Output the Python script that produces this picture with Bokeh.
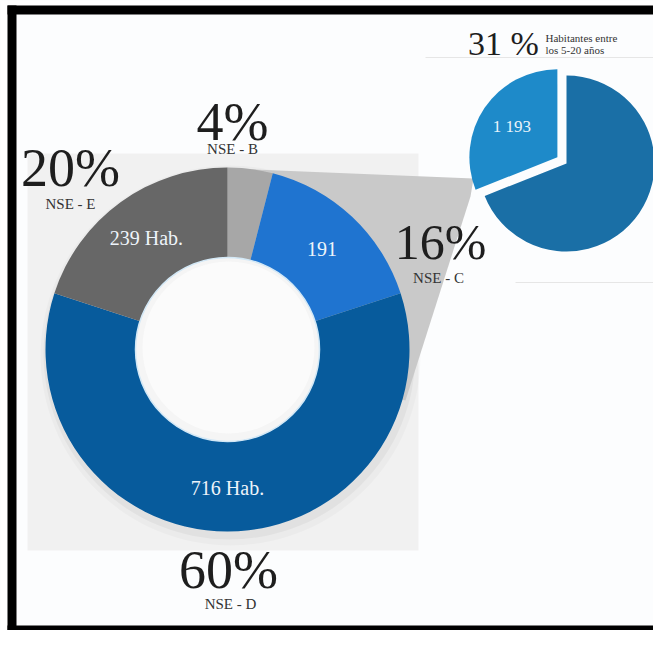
import numpy as np
from bokeh.plotting import figure
from bokeh.models import Range1d, ColumnDataSource
from bokeh.core.properties import value
from bokeh.embed import file_html
from bokeh.resources import INLINE

# ---------------- data ----------------
nse_names = ["NSE - B", "NSE - C", "NSE - D", "NSE - E"]
nse_pct = [4, 16, 60, 20]
nse_pct_labels = ["4%", "16%", "60%", "20%"]
nse_value_labels = ["", "191", "716 Hab.", "239 Hab."]
nse_colors = ["#a7a7a7", "#1f74d0", "#075b9c", "#676767"]

sub_pct = [69, 31]
sub_value_labels = ["", "1 193"]
sub_colors = ["#1a6fa6", "#1e8ac9"]
sub_pct_label = "31 %"
sub_caption = ["Habitantes entre", "los 5-20 años"]

# ---------------- layout (pixel positions) ----------------
H = 646
def Y(py):
    return H - py

FONT = value("Liberation Serif")
W_PX, H_PX = 653, 630

p = figure(width=W_PX, height=H_PX, output_backend="svg", toolbar_location=None,
           x_range=Range1d(0, W_PX), y_range=Range1d(H - H_PX, H),
           x_axis_type=None, y_axis_type=None, min_border=0)
p.grid.visible = False
p.outline_line_color = None
p.background_fill_color = "#fcfdfe"
p.border_fill_color = "#fcfdfe"

# white outside the frame
p.quad(left=[0, 0], right=[7, W_PX], top=[Y(0), Y(0)], bottom=[Y(H_PX), Y(5)],
       fill_color="#ffffff", line_color=None)

# gray panel behind donut
p.quad(left=[27], right=[418], top=[Y(153)], bottom=[Y(550)], fill_color="#f1f1f1", line_color=None)

# donut geometry
cx, cy = 227, Y(349)
r_out, r_in = 182, 91

# soft shadow
for r, a, dx, dy in [(190, 0.025, 3, -6), (186, 0.04, 2, -4)]:
    p.circle(x=[cx + dx], y=[cy + dy], radius=r, fill_color="#000000", fill_alpha=a, line_color=None)

# connector (zoom) band from donut to small pie
p.patch(x=[227, 473, 470, 405, 227], y=[Y(168), Y(178), Y(196), Y(400), cy],
        fill_color="#c9c9c9", line_color=None)

pct = np.array(nse_pct, dtype=float)
cum1 = np.cumsum(pct) / pct.sum()
cum0 = cum1 - pct / pct.sum()
start = np.pi / 2 - 2 * np.pi * cum0
end = np.pi / 2 - 2 * np.pi * cum1
mid = (start + end) / 2

src = ColumnDataSource(dict(start=start, end=end, color=nse_colors,
                            lx=cx + 138 * np.cos(mid), ly=cy + 138 * np.sin(mid),
                            vlab=nse_value_labels))
p.annular_wedge(x=cx, y=cy, inner_radius=r_in, outer_radius=r_out,
                start_angle="start", end_angle="end", direction="clock",
                fill_color="color", line_color=None, source=src)
# hole
p.circle(x=[cx], y=[cy], radius=r_in + 1, fill_color="#f5f5f5", line_color="#d3e8f6", line_width=1.5)
p.circle(x=[cx + 1], y=[cy + 2], radius=r_in - 5, fill_color="#fbfbfb", line_color=None)

p.text(x="lx", y="ly", text="vlab", source=src, text_font=FONT, text_font_size="20px",
       text_align="center", text_baseline="middle", text_color="#eef4fa")

# outside percentage labels (layout anchors, glyph centres)
pct_pos = [(232, 121), (440, 241), (228, 569), (70, 167)]
pct_size = ["54px", "50px", "54px", "54px"]
name_pos = [(232, 148), (438, 277), (230, 603), (70, 203)]
p.text(x=[q[0] for q in pct_pos], y=[Y(q[1]) for q in pct_pos], text=nse_pct_labels,
       text_font=FONT, text_font_size=pct_size, text_align="center",
       text_baseline="middle", text_color="#1e1e1e")
p.text(x=[q[0] for q in name_pos], y=[Y(q[1]) for q in name_pos], text=nse_names,
       text_font=FONT, text_font_size="15px", text_align="center",
       text_baseline="middle", text_color="#333333")

# faint rules on the right
p.segment(x0=[425, 515], y0=[Y(57), Y(282)], x1=[W_PX, W_PX], y1=[Y(57), Y(282)],
          line_color="#e6e6e6", line_width=1)

# small pie
scx, scy, sr = 566, Y(163), 88
sp = np.array(sub_pct, dtype=float)
s1 = np.cumsum(sp) / sp.sum()
s0 = s1 - sp / sp.sum()
sstart = np.pi / 2 - 2 * np.pi * s0
send = np.pi / 2 - 2 * np.pi * s1
smid = (sstart + send) / 2
explode = np.array([0, 11])
sx = scx + explode * np.cos(smid)
sy = scy + explode * np.sin(smid)
ssrc = ColumnDataSource(dict(x=sx, y=sy, start=sstart, end=send, color=sub_colors,
                             lx=sx + 55 * np.cos(smid), ly=sy + 55 * np.sin(smid),
                             vlab=sub_value_labels))
p.wedge(x="x", y="y", radius=sr, start_angle="start", end_angle="end", direction="clock",
        fill_color="color", line_color=None, source=ssrc)
p.text(x="lx", y="ly", text="vlab", source=ssrc, text_font=FONT, text_font_size="17px",
       text_align="center", text_baseline="middle", text_color="#eaf4fb")

p.text(x=[503], y=[Y(43)], text=[sub_pct_label], text_font=FONT, text_font_size="34px",
       text_align="center", text_baseline="middle", text_color="#1e1e1e")
p.text(x=[545, 545], y=[Y(37), Y(49)], text=sub_caption, text_font=FONT,
       text_font_size="11px", text_align="left", text_baseline="middle",
       text_color="#333333")

# black frame (left, top, bottom)
p.quad(left=[7, 7, 7], right=[16, W_PX, W_PX],
       top=[Y(5), Y(5), Y(H_PX - 5)], bottom=[Y(H_PX), Y(14), Y(H_PX)],
       fill_color="#000000", line_color=None)

open("out.html", "w").write(file_html(p, INLINE))
